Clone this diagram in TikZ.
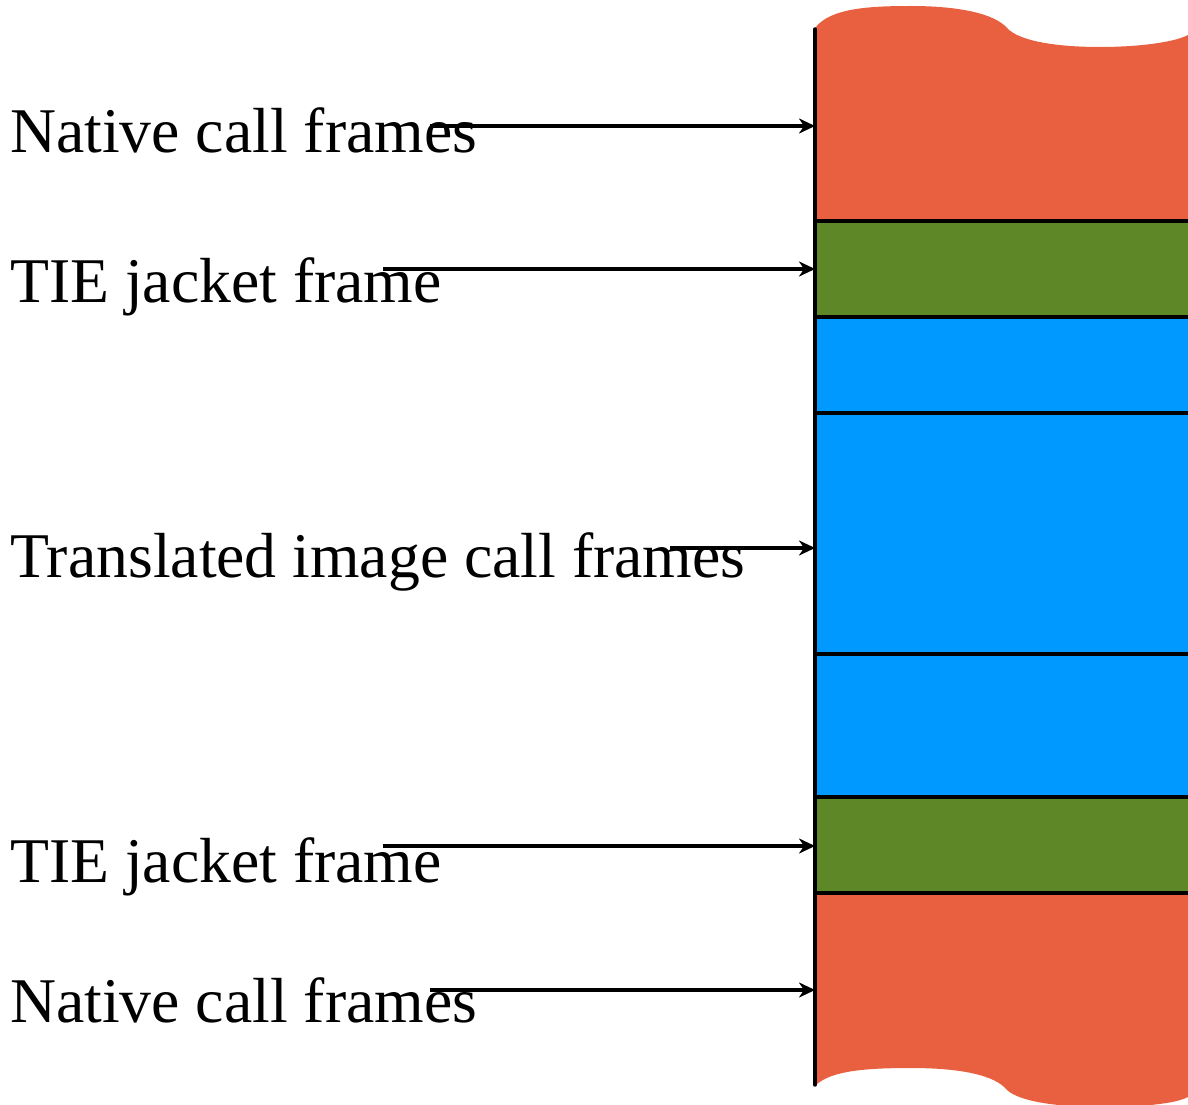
\documentclass[tikz,border=0pt]{standalone}
\usepackage{fontspec}
\setmainfont{Liberation Serif}
\usetikzlibrary{arrows.meta}
\definecolor{nativec}{RGB}{233,96,64}
\definecolor{jacketc}{RGB}{94,135,40}
\definecolor{transc}{RGB}{0,153,255}
\begin{document}
\begin{tikzpicture}[x=1pt,y=-1pt,
  lbl/.style={font=\fontsize{63.7}{70}\selectfont, anchor=base west, inner sep=0pt},
  sep/.style={line width=3.2pt},
  ptr/.style={line width=3.4pt, -{Stealth[length=16pt,width=15pt,inset=5pt]}}]
\useasboundingbox (0,0) rectangle (1188,1105);
\begin{scope}
\clip (815,28) .. controls (830,8) and (870,6) .. (911,6)
  .. controls (960,6) and (995,14) .. (1007,28)
  .. controls (1020,42) and (1060,47) .. (1100,47)
  .. controls (1140,47) and (1175,42) .. (1188,35)
  -- (1200,30) -- (1200,1100) -- (1188,1097)
  .. controls (1175,1104) and (1140,1107) .. (1100,1107)
  .. controls (1060,1107) and (1020,1102) .. (1007,1090)
  .. controls (995,1075) and (960,1068) .. (911,1068)
  .. controls (870,1068) and (830,1070) .. (815,1086) -- cycle;
\fill[nativec] (800,0) rectangle (1200,221);
\fill[jacketc] (800,221) rectangle (1200,317);
\fill[transc] (800,317) rectangle (1200,797);
\fill[jacketc] (800,797) rectangle (1200,893);
\fill[nativec] (800,893) rectangle (1200,1110);
\end{scope}
\draw[sep] (815,221) -- (1188,221);
\draw[sep] (815,317) -- (1188,317);
\draw[sep] (815,413) -- (1188,413);
\draw[sep] (815,654) -- (1188,654);
\draw[sep] (815,797) -- (1188,797);
\draw[sep] (815,893) -- (1188,893);
\draw[line width=3.4pt, line cap=round] (815,29) -- (815,1085);
\node[lbl] (l1) at (10,153) {Native call frames};
\node[lbl] (l2) at (10,302) {TIE jacket frame};
\node[lbl] (l3) at (10,577) {Translated image call frames};
\node[lbl] (l4) at (10,882) {TIE jacket frame};
\node[lbl] (l5) at (10,1022) {Native call frames};
\coordinate (s1) at (430,126);  \coordinate (e1) at (815,126);
\coordinate (s2) at (383,269);  \coordinate (e2) at (815,269);
\coordinate (s3) at (670,548);  \coordinate (e3) at (815,548);
\coordinate (s4) at (383,846);  \coordinate (e4) at (815,846);
\coordinate (s5) at (430,990);  \coordinate (e5) at (815,990);
\draw[ptr] (s1) -- (e1);
\draw[ptr] (s2) -- (e2);
\draw[ptr] (s3) -- (e3);
\draw[ptr] (s4) -- (e4);
\draw[ptr] (s5) -- (e5);
\end{tikzpicture}
\end{document}
